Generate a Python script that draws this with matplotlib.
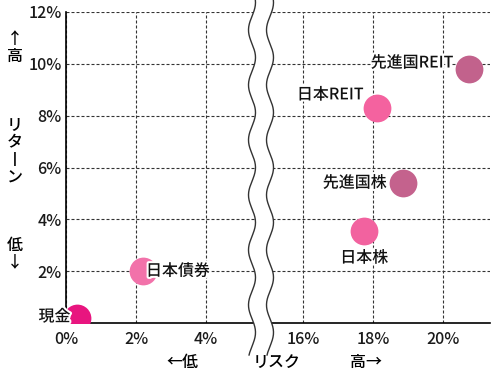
import numpy as np
import matplotlib
matplotlib.use("Agg")
import matplotlib.pyplot as plt
import matplotlib.patheffects as pe
from matplotlib.lines import Line2D
from matplotlib.patches import Polygon

plt.rcParams['font.family'] = ['Noto Sans CJK JP', 'DejaVu Sans']
plt.rcParams['font.weight'] = 'medium'

# data
names = ["現金", "日本債券", "日本株", "日本REIT", "先進国株", "先進国REIT"]
risk = [0.3, 2.2, 17.75, 18.1, 18.85, 20.75]
ret = [0.2, 2.0, 3.55, 8.3, 5.4, 9.8]
colors = ["#e8157f", "#f272aa", "#f2629f", "#f4629f", "#c4628d", "#c2628c"]
# label placement (ha, va, dx px, dy px)
lab_pos = [("right", "center", -6, 1), ("left", "center", 3, 0), ("center", "center", 0, -27),
           ("right", "center", -13, 13), ("right", "center", -16, 0), ("right", "center", -16, 6)]
yticks = [2, 4, 6, 8, 10, 12]
xticks_left = [0, 2, 4]
xticks_right = [16, 18, 20]

fig = plt.figure(figsize=(5, 3.75), dpi=100)
W, H = 500, 375
def fx(px): return np.asarray(px) / W
def fy(py): return 1 - np.asarray(py) / H

bottom = fy(323); top = fy(12)
ax1 = fig.add_axes([fx(66), bottom, fx(262) - fx(66), top - bottom])
ax2 = fig.add_axes([fx(262), bottom, fx(490) - fx(262), top - bottom])

ax1.set_xlim(0, 5.6)
ax2.set_xlim(14.83, 21.34)
for ax in (ax1, ax2):
    ax.set_ylim(0, 12)
    ax.set_facecolor('none')
    ax.spines['top'].set_visible(False)
    ax.spines['right'].set_visible(False)
    ax.tick_params(length=0, labelsize=11.5, colors='#1a1a1a')
    ax.grid(True, color='#333333', linestyle=(0, (2.7, 1.8)), linewidth=0.8)
    ax.set_axisbelow(True)
    ax.set_yticks(yticks)
    ax.spines['bottom'].set_linewidth(1.2)
ax1.spines['left'].set_linewidth(1.2)
ax2.spines['left'].set_visible(False)
ax1.set_yticklabels([f"{v}%" for v in yticks])
ax1.tick_params(axis='y', pad=3)
ax1.tick_params(axis='x', pad=6)
ax2.tick_params(axis='x', pad=6)
ax2.tick_params(axis='y', labelleft=False)
ax1.set_xticks(xticks_left)
ax1.set_xticklabels([f"{v}%" for v in xticks_left])
ax2.set_xticks(xticks_right)
ax2.set_xticklabels([f"{v}%" for v in xticks_right])

stroke = [pe.withStroke(linewidth=3, foreground='white')]
for n, x, y, c, (ha, va, dx, dy) in zip(names, risk, ret, colors, lab_pos):
    ax = ax1 if x < 10 else ax2
    ax.scatter([x], [y], s=400, color=c, zorder=3, linewidths=0)
    ax.annotate(n, (x, y), xytext=(dx, dy), textcoords='offset pixels', ha=ha, va=va,
                fontsize=11.5, color='#111111', zorder=5, path_effects=stroke,
                annotation_clip=False)

# break wavy lines with white gap between
yy = np.linspace(0, 355, 400)
waves = []
for xc in (252, 270):
    xx = xc - 3.5 * np.cos(2 * np.pi * (yy - 30) / 55)
    waves.append(xx)
poly = np.column_stack([np.concatenate([fx(waves[0]), fx(waves[1][::-1])]),
                        np.concatenate([fy(yy), fy(yy[::-1])])])
fig.add_artist(Polygon(poly, closed=True, facecolor='white', edgecolor='none', zorder=9))
for xx in waves:
    fig.add_artist(Line2D(fx(xx), fy(yy), color='#333333', linewidth=1.0, zorder=10))

# axis labels
fig.text(fx(15), fy(48), "↑\n高", ha='center', va='center', fontsize=11.5, linespacing=0.95)
fig.text(fx(15), fy(152), "リ\nタ\n丨\nン", ha='center', va='center', fontsize=11.5, linespacing=1.05)
fig.text(fx(15), fy(254), "低\n↓", ha='center', va='center', fontsize=11.5, linespacing=0.95)
fig.text(fx(182), fy(363), "←低", ha='center', va='center', fontsize=11.5)
fig.text(fx(277), fy(362), "リスク", ha='center', va='center', fontsize=11.5)
fig.text(fx(366), fy(362), "高→", ha='center', va='center', fontsize=11.5)

fig.savefig("out.png", dpi=100)
